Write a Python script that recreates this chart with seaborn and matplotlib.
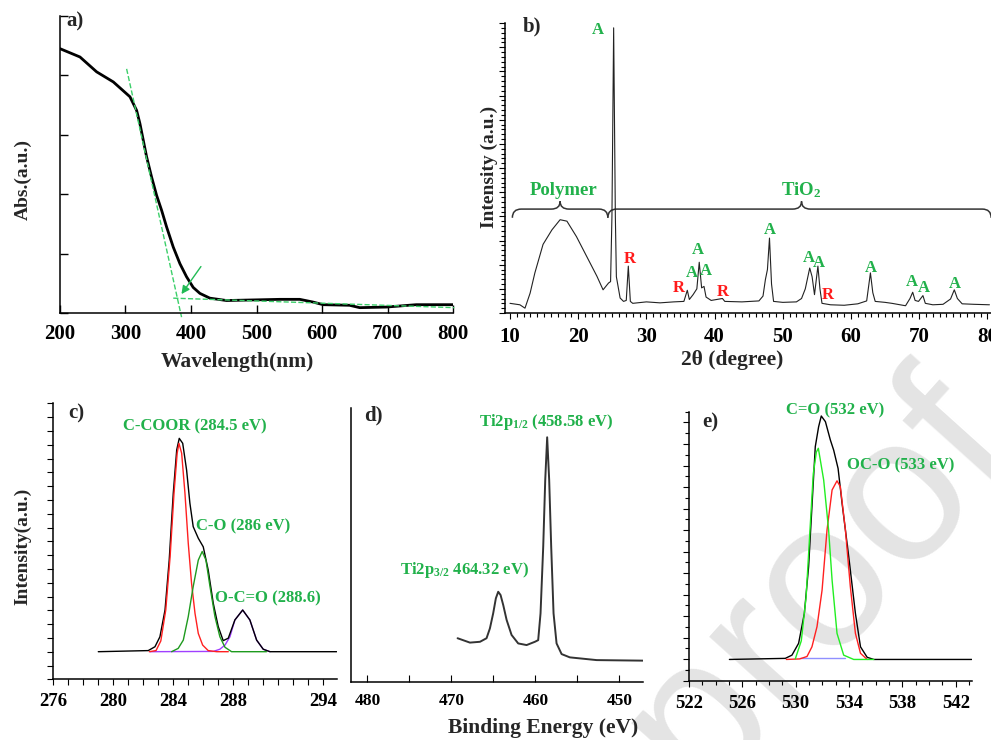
import matplotlib
matplotlib.use("Agg")
import matplotlib.pyplot as plt
from matplotlib.path import Path
from matplotlib.patches import PathPatch
from matplotlib.ticker import MultipleLocator, FixedLocator, NullFormatter
import seaborn as sns

# ---- data ----
# a) UV-vis absorbance
uv_wl = [200, 230.5, 255.9, 281.4, 306.8, 317, 322, 332.2, 339.8, 347.5, 355.1, 362.7, 372.9,
         383.1, 393.2, 403.4, 413.6, 428.8, 454.2, 535.6, 566, 586, 601.7, 642, 657.6, 698, 744, 800]
uv_abs = [4.45, 4.31, 4.06, 3.89, 3.64, 3.41, 3.19, 2.63, 2.29, 1.98, 1.73, 1.45, 1.11,
          0.83, 0.61, 0.43, 0.33, 0.25, 0.21, 0.23, 0.23, 0.185, 0.14, 0.13, 0.09, 0.10, 0.14, 0.14]
tangent_wl = [301.7, 385.6]
tangent_abs = [4.11, -0.07]
base_wl = [372.9, 802]
base_abs = [0.25, 0.09]

# b) XRD pattern
xrd_2theta = [10.0, 11.45, 12.2, 12.95, 13.65, 14.85, 16.15, 17.35, 18.35, 19.75, 21.25, 22.75,
              23.65, 24.45, 24.75, 24.95, 25.2, 25.45, 25.6, 26.15, 26.65, 27.05, 27.35, 27.65,
              28.0, 30, 32, 34, 35.5, 36.0, 36.3, 36.85, 37.4, 37.75, 38.1, 38.45, 38.75, 39.5,
              41.15, 41.5, 44, 46.5, 47.1, 47.45, 47.75, 48.05, 48.35, 48.65, 50, 52.0, 52.75,
              53.3, 53.95, 54.3, 54.65, 55.15, 55.45, 55.75, 57, 59, 61, 62.3, 62.85, 63.2, 63.55,
              65, 66, 68.0, 68.65, 69.05, 69.4, 69.9, 70.55, 70.9, 72, 73.5, 74.6, 75.15, 75.6,
              76.3, 78, 80.3]
xrd_int = [2.0, 1.7, 1.0, 4.1, 8.3, 14.2, 17.2, 19.3, 19.0, 15.8, 11.7, 7.6,
           4.8, 6.2, 6.5, 20, 59.0, 20, 7.5, 3.1, 2.4, 2.6, 9.7, 2.4,
           2.0, 2.3, 2.1, 2.3, 2.4, 4.7, 2.8, 3.8, 5.0, 10.5, 5.2, 5.5, 3.3, 2.6,
           3.0, 2.4, 2.3, 2.5, 3.5, 6.9, 9.0, 15.5, 6.0, 2.4, 2.2, 2.3, 3.0,
           5.0, 9.3, 7.5, 3.8, 9.7, 5.0, 2.0, 1.7, 1.6, 1.9, 2.5, 8.3, 4.2, 2.4,
           2.2, 2.0, 1.5, 3.0, 4.3, 2.6, 2.4, 3.6, 2.0, 1.7, 1.8, 2.9, 4.8, 3.0,
           1.9, 1.8, 1.7]
phase_text = ["A", "R", "R", "A", "A", "A", "R", "A", "A", "A", "R", "A", "A", "A", "A"]
phase_x = [22.95, 27.6, 34.75, 36.65, 37.55, 38.75, 41.15, 48.05, 53.75, 55.35, 56.65,
           62.95, 68.95, 70.75, 75.25]
phase_y = [58.6, 11.2, 5.2, 8.3, 13.0, 8.6, 4.3, 17.2, 11.4, 10.3, 3.8, 9.3, 6.5, 5.2, 6.1]

# c) C1s
c1s_be = [279.0, 282.33, 282.78, 283.11, 283.45, 283.73, 284.0, 284.23, 284.4, 284.63, 284.89,
          285.11, 285.33, 285.67, 286.0, 286.33, 286.67, 287.0, 287.33, 287.67, 288.11, 288.63,
          289.11, 289.56, 290.0, 290.45, 294.9]
c1s_env = [10.0, 10.4, 11.8, 15.4, 25.1, 43.2, 67.4, 83.1, 87.3, 85.5, 75.8,
           63.8, 55.3, 51.1, 48.0, 39.6, 27.5, 19.1, 14.0, 14.9, 21.5, 25.1,
           21.5, 14.2, 10.9, 10.0, 10.0]
cc_be = [282.4, 282.85, 283.17, 283.5, 283.79, 284.05, 284.26, 284.38, 284.56, 284.78, 285.0,
         285.22, 285.45, 285.67, 285.96, 286.33, 286.89, 287.67]
cc_int = [10.0, 10.4, 13.9, 25.1, 44.4, 67.4, 81.9, 85.5, 81.9, 67.4, 49.3,
          34.8, 23.9, 16.6, 12.4, 10.4, 10.0, 10.0]
co_be = [283.89, 284.33, 284.67, 285.0, 285.33, 285.67, 285.93, 286.18, 286.45, 286.78, 287.11,
         287.45, 287.89, 290.22]
co_int = [10.0, 11.2, 14.2, 22.7, 33.6, 43.2, 46.3, 43.2, 33.6, 22.7, 15.4, 11.6, 10.0, 10.0]
oco_be = [282.45, 286.67, 287.11, 287.45, 287.78, 288.11, 288.63, 289.11, 289.56, 290.0, 290.45]
oco_int = [10.0, 10.1, 10.9, 12.4, 15.4, 21.5, 25.1, 21.5, 14.2, 10.9, 10.0]

# d) Ti2p
ti_be = [469.27, 467.8, 466.6, 465.82, 465.42, 465.03, 464.71, 464.43, 464.15, 463.83, 463.43,
         462.84, 462.05, 461.05, 460.06, 459.67, 459.39, 459.07, 458.83, 458.6, 458.36, 458.12,
         457.84, 457.48, 456.88, 455.9, 452.7, 447.15]
ti_int = [15.9, 14.3, 14.6, 15.9, 19.5, 25.0, 30.5, 32.9, 31.7, 28.0, 22.6,
          17.1, 14.0, 13.4, 14.6, 15.2, 25.0, 49.4, 73.8, 89.4, 73.8, 49.4,
          25.0, 14.0, 10.1, 8.9, 7.9, 7.7]

# e) O1s
o1s_be = [525.03, 529.22, 529.72, 530.22, 530.65, 530.97, 531.22, 531.47, 531.72, 531.92, 532.23,
          532.6, 532.85, 533.18, 533.48, 533.98, 534.48, 534.86, 535.36, 535.86, 543.2]
o1s_env = [7.9, 8.3, 9.5, 13.9, 25.0, 42.4, 64.7, 87.0, 94.4, 98.4, 96.3,
           89.5, 85.7, 78.9, 65.9, 46.1, 25.0, 12.6, 8.7, 7.9, 7.9]
cdo_be = [529.97, 530.42, 530.78, 531.07, 531.32, 531.55, 531.7, 532.1, 532.47, 532.73, 533.1,
          533.6, 534.35, 535.86]
cdo_int = [8.1, 14.8, 31.0, 55.8, 76.9, 85.0, 86.4, 74.6, 56.0, 37.4, 17.6, 9.5, 7.9, 7.9]
oco2_be = [529.3, 530.3, 530.85, 531.22, 531.6, 531.98, 532.35, 532.73, 533.1, 533.35, 533.73,
           534.1, 534.48, 534.86, 535.36]
oco2_int = [7.9, 8.1, 9.0, 12.6, 20.1, 33.7, 56.0, 70.9, 74.3, 72.1, 56.0,
            34.9, 17.6, 10.2, 7.9]
o1s_bg_be = [530.3, 533.7]
o1s_bg_int = [8.3, 8.3]

# ---- style ----
sns.set_theme(style="ticks")
plt.rcParams["font.family"] = ["Liberation Serif", "DejaVu Serif"]
plt.rcParams["font.weight"] = "bold"
plt.rcParams["axes.labelweight"] = "bold"
plt.rcParams["mathtext.fontset"] = "custom"
plt.rcParams["mathtext.rm"] = "Liberation Serif:bold"
plt.rcParams["mathtext.bf"] = "Liberation Serif:bold"
plt.rcParams["mathtext.it"] = "Liberation Serif:bold:italic"

GREEN = "#21b14b"
W, H = 991, 740
fig = plt.figure(figsize=(W / 100, H / 100), dpi=100)
fig.patch.set_facecolor("white")


def add_ax(l, t, r, b):
    ax = fig.add_axes([l / W, 1 - b / H, (r - l) / W, (b - t) / H])
    ax.patch.set_alpha(0)
    for s in ["top", "right"]:
        ax.spines[s].set_visible(False)
    for s in ["left", "bottom"]:
        ax.spines[s].set_color("black")
        ax.spines[s].set_linewidth(1.1)
    return ax


def line(ax, x, y, color, lw=1.0, **kw):
    sns.lineplot(x=x, y=y, ax=ax, color=color, lw=lw, sort=False, estimator=None, **kw)


# watermark of the source page
fig.text(444 / W, 1 - 1016 / H, "Journal Pre-proof", fontsize=150, color="#e4e4e4",
         family="Liberation Sans", weight="normal", rotation=48, ha="center", va="center",
         zorder=-5)

# ---- a) ----
ax = add_ax(60, 16, 453, 313)
line(ax, uv_wl, uv_abs, "black", lw=2.0)
line(ax, tangent_wl, tangent_abs, "#3ccf6a", lw=1.0, linestyle="--", clip_on=False)
line(ax, base_wl, base_abs, "#3ccf6a", lw=1.0, linestyle="--", clip_on=False)
ax.annotate("", xy=(383, 0.28), xytext=(417.6, 0.82),
            arrowprops=dict(arrowstyle="-|>", color="#22bb55", lw=1.0, mutation_scale=12))
ax.set_xlim(200, 800)
ax.set_ylim(0, 5)
ax.xaxis.set_major_locator(MultipleLocator(100))
ax.yaxis.set_major_locator(MultipleLocator(1))
ax.yaxis.set_major_formatter(NullFormatter())
ax.tick_params(direction="in", length=6, width=1, labelsize=15, pad=8, colors="black")
ax.set_xlabel("")
ax.set_ylabel("")
ax.text(223, 4.9, "a)", fontsize=15, weight="bold", va="center", ha="center")
fig.text(237 / W, 1 - 362 / H, "Wavelength(nm)", fontsize=15.5, weight="bold", ha="center", va="center")
fig.text(23 / W, 1 - 180 / H, "Abs.(a.u.)", fontsize=14, weight="bold", ha="center", va="center",
         rotation=90)

# ---- b) ----
ax = add_ax(505, 23, 991, 313)
line(ax, xrd_2theta, xrd_int, "#222222", lw=0.8)
for t, x, y in zip(phase_text, phase_x, phase_y):
    ax.text(x, y, t, color=GREEN if t == "A" else "#ff1a1a", fontsize=12, weight="bold",
            ha="center", va="center")


def brace(ax, x0, x1, xm, y, d_tip, d_mid, r):
    verts = [(x0, y - d_tip), (x0, y), (x0 + r, y), (xm - r, y), (xm, y), (xm, y + d_mid),
             (xm, y), (xm + r, y), (x1 - r, y), (x1, y), (x1, y - d_tip)]
    codes = [Path.MOVETO, Path.CURVE3, Path.CURVE3, Path.LINETO, Path.CURVE3, Path.CURVE3,
             Path.CURVE3, Path.CURVE3, Path.LINETO, Path.CURVE3, Path.CURVE3]
    ax.add_patch(PathPatch(Path(verts, codes), fill=False, edgecolor="#333333", lw=1.1,
                           clip_on=False))


brace(ax, 10.35, 24.35, 17.35, 21.5, 1.8, 1.6, 1.3)
brace(ax, 24.35, 80.55, 52.75, 21.5, 1.8, 1.6, 1.3)
ax.text(17.85, 25.4, "Polymer", color=GREEN, fontsize=13.5, weight="bold", ha="center", va="center")
ax.text(52.75, 25.4, "TiO$_2$", color=GREEN, fontsize=13.5, weight="bold", ha="center", va="center")
ax.set_xlim(9.27, 80.53)
ax.set_ylim(0, 60)
ax.xaxis.set_major_locator(MultipleLocator(10))
ax.xaxis.set_minor_locator(MultipleLocator(1))
ax.yaxis.set_major_locator(MultipleLocator(5))
ax.yaxis.set_minor_locator(MultipleLocator(1))
ax.yaxis.set_major_formatter(NullFormatter())
ax.tick_params(which="both", direction="out", width=0.8, labelsize=15, pad=6, colors="black")
ax.tick_params(which="major", length=4)
ax.tick_params(which="minor", length=3)
ax.set_xlabel("")
ax.set_ylabel("")
ax.text(13.2, 59.2, "b)", fontsize=15, weight="bold", va="center", ha="center")
fig.text(732 / W, 1 - 360 / H, "2θ (degree)", fontsize=15.5, weight="bold", ha="center", va="center")
fig.text(489 / W, 1 - 167 / H, "Intensity (a.u.)", fontsize=14, weight="bold", ha="center",
         va="center", rotation=90)

# ---- c) ----
ax = add_ax(53.3, 403.3, 336.7, 679.3)
line(ax, oco_be, oco_int, "#a040ff", lw=1.0)
line(ax, c1s_be, c1s_env, "black", lw=1.0)
line(ax, cc_be, cc_int, "#ff2020", lw=1.0)
line(ax, co_be, co_int, "#1e9a1e", lw=1.0)
ax.set_xlim(276, 294.9)
ax.set_ylim(0, 100)
ax.xaxis.set_major_locator(FixedLocator([276, 280, 284, 288, 294]))
ax.xaxis.set_minor_locator(MultipleLocator(1))
ax.yaxis.set_major_locator(MultipleLocator(5))
ax.yaxis.set_major_formatter(NullFormatter())
ax.tick_params(which="both", direction="out", length=4, width=0.8, labelsize=13.5, pad=6,
               colors="black")
ax.set_xlabel("")
ax.set_ylabel("")
ax.text(285.45, 91.5, "C-COOR (284.5 eV)", color=GREEN, fontsize=12, weight="bold", ha="center", va="center")
ax.text(288.63, 55.3, "C-O (286 eV)", color=GREEN, fontsize=12, weight="bold", ha="center", va="center")
ax.text(290.33, 29.3, "O-C=O (288.6)", color=GREEN, fontsize=12, weight="bold", ha="center", va="center")
ax.text(277.56, 96.4, "c)", fontsize=15, weight="bold", ha="center", va="center")
fig.text(23 / W, 1 - 546 / H, "Intensity(a.u.)", fontsize=14, weight="bold", ha="center",
         va="center", rotation=90)

# ---- d) ----
ax = add_ax(350.7, 408.3, 643.3, 681.7)
line(ax, ti_be, ti_int, "#333333", lw=1.4)
ax.set_xlim(482.0, 447.15)
ax.set_ylim(0, 100)
ax.xaxis.set_major_locator(MultipleLocator(10))
ax.xaxis.set_minor_locator(MultipleLocator(5))
ax.yaxis.set_major_locator(FixedLocator([]))
ax.tick_params(which="both", direction="in", length=5, width=0.8, labelsize=12.5, pad=8,
               colors="black")
ax.set_xlabel("")
ax.set_ylabel("")
ax.text(458.67, 95.1, "Ti2p$_{1/2}$ (458.58 eV)", color=GREEN, fontsize=12, weight="bold",
        ha="center", va="center")
ax.text(468.4, 40.9, "Ti2p$_{3/2}$ 464.32 eV)", color=GREEN, fontsize=12, weight="bold",
        ha="center", va="center")
ax.text(479.33, 97.5, "d)", fontsize=15, weight="bold", ha="center", va="center")
fig.text(543 / W, 1 - 728 / H, "Binding Energy (eV)", fontsize=15.5, weight="bold", ha="center",
         va="center")

# ---- e) ----
ax = add_ax(689, 411.7, 971.7, 680.7)
line(ax, o1s_be, o1s_env, "black", lw=1.0)
line(ax, o1s_bg_be, o1s_bg_int, "#9090ff", lw=1.0)
line(ax, oco2_be, oco2_int, "#ff2020", lw=1.0)
line(ax, cdo_be, cdo_int, "#22ee22", lw=1.0)
ax.set_xlim(522, 543.2)
ax.set_ylim(0, 100)
ax.xaxis.set_major_locator(FixedLocator([522, 526, 530, 534, 538, 542]))
ax.xaxis.set_minor_locator(MultipleLocator(1))
ax.yaxis.set_major_locator(MultipleLocator(8))
ax.yaxis.set_minor_locator(MultipleLocator(4))
ax.yaxis.set_major_formatter(NullFormatter())
ax.tick_params(which="both", direction="out", width=0.8, labelsize=13.5, pad=6, colors="black")
ax.tick_params(which="major", length=4)
ax.tick_params(which="minor", length=3)
ax.set_xlabel("")
ax.set_ylabel("")
ax.text(532.98, 100.4, "C=O (532 eV)", color=GREEN, fontsize=12, weight="bold", ha="center", va="center")
ax.text(537.86, 80.2, "OC-O (533 eV)", color=GREEN, fontsize=12, weight="bold", ha="center", va="center")
ax.text(523.58, 95.9, "e)", fontsize=15, weight="bold", ha="center", va="center")

fig.savefig("out.png", dpi=100)
